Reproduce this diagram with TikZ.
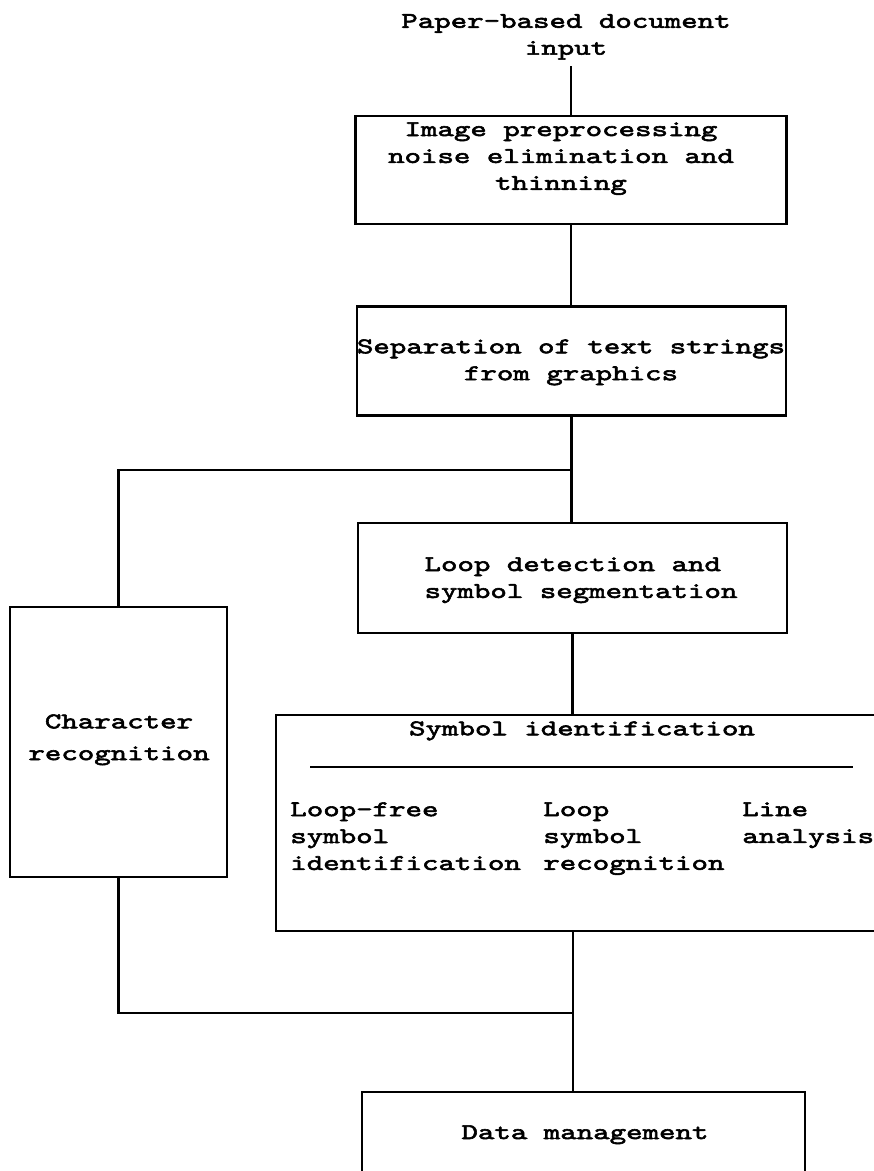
\documentclass[tikz,border=0pt]{standalone}
\usepackage{fontspec}
\newfontfamily\flowfont[FakeStretch=1.40,FakeBold=2.6]{lmmono10-regular.otf}
\newcommand{\flowtext}{\flowfont\fontsize{12.75}{15.3}\selectfont}

\begin{document}
\begin{tikzpicture}[x=0.02cm, y=-0.02cm,
    stage/.style={draw, line width=1.2pt, inner sep=0pt},
    txt/.style={font=\flowtext, inner sep=0pt, align=center},
    link/.style={line width=1.2pt}]

% === Marco de la pagina ===
\useasboundingbox (0,0) rectangle (874,1171);
\clip (0,0) rectangle (874,1171);

% === Entrada ===
\node[txt, anchor=south] (doc) at (566, 60) {Paper-based document\\input};
\coordinate (feed) at (571, 66);

% === Cajas de proceso ===
\node[stage, minimum width=8.62cm, minimum height=2.16cm] (prep) at (571, 170) {};
\node[txt, anchor=north] (prepText) at (561, 122)
    {Image preprocessing\\noise elimination and\\thinning};

\node[stage, minimum width=8.58cm, minimum height=2.18cm] (sep) at (571.5, 361) {};
\node[txt, anchor=north] (sepText) at (571, 339)
    {Separation of text strings\\from graphics};

\node[stage, minimum width=8.58cm, minimum height=2.20cm] (loop) at (572.5, 578) {};
\node[txt, anchor=north, align=left] (loopText) at (581, 557)
    {Loop detection and\\symbol segmentation};

\node[stage, minimum width=4.34cm, minimum height=5.40cm] (charrec) at (118.5, 742) {};
\node[txt, anchor=north] (charText) at (119, 714)
    {Character\\[2.8pt]recognition};

% Identificacion de simbolos (tres columnas)
\node[stage, minimum width=12.24cm, minimum height=4.32cm] (sym) at (582, 823) {};
\node[txt, anchor=north] (symTitle) at (582, 721) {Symbol identification};
\draw[link] (310, 767) -- (853, 767);
\node[txt, anchor=north west, align=left] (freeCol) at (290, 802)
    {Loop-free\\symbol\\identification};
\node[txt, anchor=north west, align=left] (loopCol) at (543, 802)
    {Loop\\symbol\\recognition};
\node[txt, anchor=north west, align=left] (lineCol) at (742, 802)
    {Line\\analysis};

\node[stage, minimum width=8.86cm, minimum height=2.20cm] (data) at (583.5, 1147) {};
\node[txt, anchor=north] (dataText) at (585, 1125) {Data management};

% === Conexiones ===
\coordinate (fork) at (572, 470);
\coordinate (join) at (573, 1013);

\draw[link] (feed) -- (feed |- prep.north);
\draw[link] (prep.south) -- (prep.south |- sep.north);
\draw[link] (sep.south) -- (sep.south |- loop.north);
\draw[link] (fork) -| (charrec.north);
\draw[link] (loop.south) -- (loop.south |- sym.north);
\draw[link] (charrec.south) |- (join);
\draw[link] (sym.south -| join) -- (data.north -| join);

\end{tikzpicture}
\end{document}
